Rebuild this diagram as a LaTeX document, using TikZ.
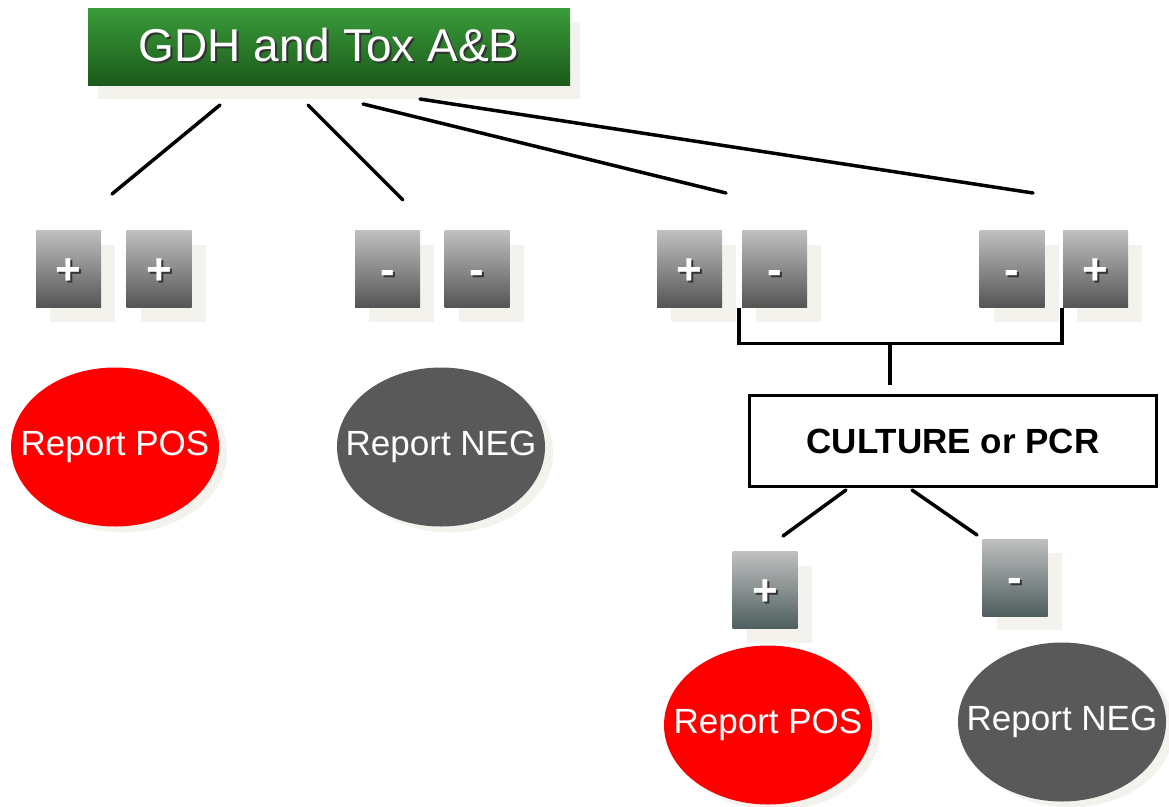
\documentclass[tikz,border=0pt]{standalone}
\usepackage{fontspec}
\setmainfont{Liberation Sans}
\usetikzlibrary{shapes.geometric,shadows}

\definecolor{titletop}{RGB}{58,156,58}
\definecolor{titlebot}{RGB}{28,90,28}
\definecolor{boxtop}{RGB}{192,192,192}
\definecolor{boxbot}{RGB}{84,84,84}
\definecolor{slatebot}{RGB}{78,94,94}
\definecolor{cream}{RGB}{243,242,236}
\definecolor{negfill}{RGB}{89,89,89}

% white text with a small dark shadow
\newcommand{\shtext}[1]{\rlap{\hspace{2pt}\raisebox{-2pt}{\textcolor{black!80}{#1}}}#1}

\tikzset{
  conn/.style={line width=3.5pt, line cap=round},
  flatshadow/.style={drop shadow={shadow xshift=#1, shadow yshift=-14pt, fill=cream, opacity=1}},
  signbox/.style={rectangle, minimum width=65pt, minimum height=77pt, inner sep=0pt,
    top color=boxtop, bottom color=boxbot, text=white,
    text height=30pt, text depth=0pt,
    font=\fontsize{44}{44}\selectfont\bfseries, flatshadow=14pt},
  lowsign/.style={signbox, bottom color=slatebot},
  report/.style={ellipse, minimum width=208pt, minimum height=159pt, inner sep=0pt,
    text=white, font=\fontsize{35}{35}\selectfont,
    drop shadow={shadow xshift=8pt, shadow yshift=-6pt, fill=cream, opacity=1}},
  posrep/.style={report, fill=red},
  negrep/.style={report, fill=negfill},
}

\begin{document}
\begin{tikzpicture}[x=1pt, y=-1pt]
  \useasboundingbox (0,0) rectangle (1169,806);

  % heading
  \node[rectangle, minimum width=482pt, minimum height=77pt, inner sep=0pt,
        top color=titletop, bottom color=titlebot, text=white,
        font=\fontsize{46}{46}\selectfont, flatshadow=10pt] (title) at (329,46.5)
        {\shtext{GDH and Tox A\&B}};

  % first results
  \node[signbox] (s11) at (68.5,269) {\shtext{+}};
  \node[signbox] (s12) at (159,269) {\shtext{+}};
  \node[signbox] (s21) at (387.5,269) {\shtext{-}};
  \node[signbox] (s22) at (477,269) {\shtext{-}};
  \node[signbox] (s31) at (689.5,269) {\shtext{+}};
  \node[signbox] (s32) at (774.5,269) {\shtext{-}};
  \node[signbox] (s41) at (1012,269) {\shtext{-}};
  \node[signbox] (s42) at (1095.5,269) {\shtext{+}};

  \node[posrep] (pos1) at (115,447) {\makebox[0pt]{Report POS}};
  \node[negrep] (neg1) at (441,447) {\makebox[0pt]{Report NEG}};

  % confirmation
  \node[rectangle, draw, line width=3.5pt, minimum width=407pt, minimum height=91pt,
        font=\fontsize{35}{35}\selectfont\bfseries] (confirm) at (953,441) {CULTURE or PCR};

  \node[lowsign] (t1) at (765,590) {\shtext{+}};
  \node[lowsign] (t2) at (1015,577.5) {\shtext{-}};

  \node[posrep] (pos2) at (768,725) {\makebox[0pt]{Report POS}};
  \node[negrep] (neg2) at (1062,722) {\makebox[0pt]{Report NEG}};

  % connector ends
  \coordinate (a1) at (220,105);  \coordinate (b1) at (112,194);
  \coordinate (a2) at (308,105);  \coordinate (b2) at (403,200);
  \coordinate (a3) at (363,104);  \coordinate (b3) at (726,193);
  \coordinate (a4) at (420,99);   \coordinate (b4) at (1033,193);
  \coordinate (c1) at (846,490);  \coordinate (d1) at (783,536);
  \coordinate (c2) at (912,490);  \coordinate (d2) at (977,535);

  \draw[conn] (a1) -- (b1);
  \draw[conn] (a2) -- (b2);
  \draw[conn] (a3) -- (b3);
  \draw[conn] (a4) -- (b4);

  \draw[line width=3.5pt] ([xshift=-3pt]s32.south west) -- ++(0,36) coordinate (brk)
        -| ([xshift=-1pt]s42.south west);
  \coordinate (stem) at (890,344);
  \draw[line width=3.5pt] (stem) -- (stem |- confirm.north) [shorten >=9pt];

  \draw[conn] (c1) -- (d1);
  \draw[conn] (c2) -- (d2);
\end{tikzpicture}
\end{document}
